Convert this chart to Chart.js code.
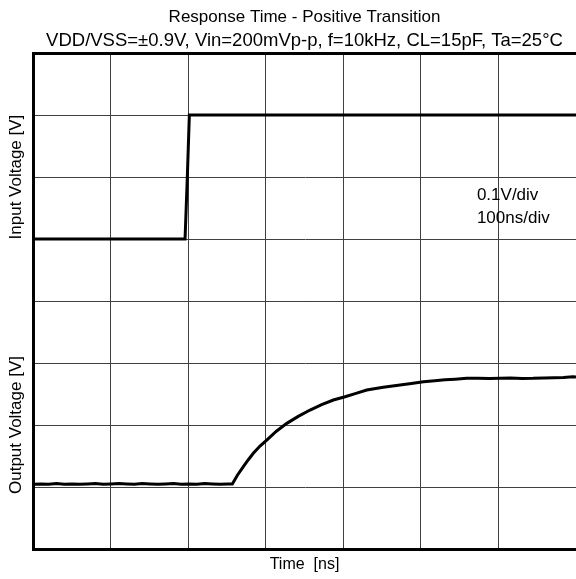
<!DOCTYPE html>
<html>
<head>
<meta charset="utf-8">
<script src="https://cdn.jsdelivr.net/npm/chart.js@4/dist/chart.umd.min.js"></script>
<style>
  html, body { margin: 0; padding: 0; background: #fff; }
  #wrap { width: 576px; height: 579px; position: relative; }
</style>
</head>
<body>
<div id="wrap"><canvas id="c"></canvas></div>
<script>
// ---- data (time in ns, voltage in V relative to each trace's centre line) ----
const inputTime = [0, 194.9, 197.8, 200.4, 696];
const inputVolt = [-0.100, -0.100, 0.000, 0.100, 0.100];

const outputTime = [0, 10, 20, 30, 40, 50, 60, 70, 80, 90, 100, 110, 120, 130, 140, 150, 160, 170, 180, 190, 200, 210, 220, 230, 240, 250, 255.5,
  262, 269.6, 276, 282.4, 291, 299.6, 312, 325.3, 340, 355.1, 370, 385, 400, 414, 427.8, 449, 470.5, 485, 500.4, 515, 528, 541, 556, 570, 585, 598.7, 612, 627, 641, 655, 668, 680, 692, 696];
const outputVolt = [-0.0955, -0.095, -0.0955, -0.0945, -0.0955, -0.095, -0.0955, -0.095, -0.0945, -0.0955, -0.095, -0.0945, -0.095, -0.0955, -0.0945, -0.095, -0.0955, -0.095, -0.0945, -0.0955, -0.095, -0.0955, -0.0945, -0.095, -0.0955, -0.095, -0.095,
  -0.081, -0.067, -0.056, -0.0456, -0.034, -0.0242, -0.010, 0.0027, 0.014, 0.0242, 0.033, 0.0403, 0.0456, 0.051, 0.0565, 0.061, 0.0645, 0.067, 0.0698, 0.0715, 0.073, 0.074, 0.0753, 0.0755, 0.0750, 0.0753, 0.0758, 0.0752, 0.0753, 0.0760, 0.0762, 0.0765, 0.0779, 0.0775];

const titleText = 'Response Time - Positive Transition';
const subtitleText = 'VDD/VSS=\u00b10.9V, Vin=200mVp-p, f=10kHz, CL=15pF, Ta=25\u00b0C';
const xTitle = 'Time  [ns]';
const yInTitle = 'Input Voltage [V]';
const yOutTitle = 'Output Voltage [V]';
const noteLines = ['0.1V/div', '100ns/div'];
const noteTime = 569;
const noteVolt = [-0.029, -0.066];

const timeMin = 0, timeMax = 696, timeStep = 100;
const voltMin = -0.2, voltMax = 0.2, voltStep = 0.1;

// ---- chart ----
Chart.defaults.font.family = "'Liberation Sans', Arial, sans-serif";
Chart.defaults.color = '#000';

const gridColor = '#404040';
const near = (a, b) => Math.abs(a - b) < 1e-6;

const notePlugin = {
  id: 'note',
  afterDatasetsDraw(chart) {
    const ctx = chart.ctx;
    ctx.save();
    ctx.font = "17px 'Liberation Sans', Arial, sans-serif";
    ctx.fillStyle = '#000';
    ctx.textAlign = 'left';
    ctx.textBaseline = 'middle';
    const x = chart.scales.x.getPixelForValue(noteTime);
    noteLines.forEach((t, i) => {
      ctx.fillText(t, x, chart.scales.yIn.getPixelForValue(noteVolt[i]));
    });
    ctx.restore();
  }
};

function yAxis(title, isTop) {
  return {
    type: 'linear',
    position: 'left',
    stack: 'v',
    stackWeight: 1,
    min: voltMin, max: voltMax,
    ticks: { display: false, stepSize: voltStep },
    grid: {
      drawTicks: false,
      color: (c) => (isTop && near(c.tick.value, voltMax)) ? '#000' : gridColor,
      lineWidth: (c) => {
        const v = c.tick.value;
        if (isTop && near(v, voltMax)) return 3;
        if (!isTop && near(v, voltMin)) return 0;
        return 1;
      }
    },
    border: { display: true, color: '#000', width: 3 },
    title: { display: true, text: title, font: { size: 17 }, padding: { top: 6, bottom: 0 } },
    afterFit: (axis) => { axis.width = 33; }
  };
}

new Chart(document.getElementById('c'), {
  type: 'line',
  data: {
    datasets: [
      {
        label: 'Input',
        data: inputTime.map((t, i) => ({ x: t, y: inputVolt[i] })),
        yAxisID: 'yIn',
        borderColor: '#000', borderWidth: 3, pointRadius: 0, tension: 0, fill: false
      },
      {
        label: 'Output',
        data: outputTime.map((t, i) => ({ x: t, y: outputVolt[i] })),
        yAxisID: 'yOut',
        borderColor: '#000', borderWidth: 3, pointRadius: 0, tension: 0, fill: false
      }
    ]
  },
  options: {
    responsive: true,
    maintainAspectRatio: false,
    animation: false,
    layout: { padding: 0 },
    plugins: {
      legend: { display: false },
      tooltip: { enabled: false },
      title: {
        display: true, text: titleText, fullSize: false,
        font: { size: 17, weight: 'normal' }, color: '#000',
        padding: { top: 7, bottom: 2.5 }
      },
      subtitle: {
        display: true, text: subtitleText, fullSize: false,
        font: { size: 18.5, weight: 'normal' }, color: '#000',
        padding: { top: 0, bottom: 1 }
      }
    },
    scales: {
      x: {
        type: 'linear',
        min: timeMin, max: timeMax,
        ticks: { display: false, stepSize: timeStep },
        grid: {
          drawTicks: false,
          color: gridColor,
          lineWidth: (c) => near(c.tick.value, timeMin) ? 0 : 1
        },
        border: { display: true, color: '#000', width: 3 },
        title: { display: true, text: xTitle, font: { size: 16 }, padding: { top: 0, bottom: 5 } },
        afterFit: (axis) => { axis.height = 30; }
      },
      yOut: yAxis(yOutTitle, false),
      yIn: yAxis(yInTitle, true)
    }
  },
  plugins: [notePlugin]
});
</script>
</body>
</html>
